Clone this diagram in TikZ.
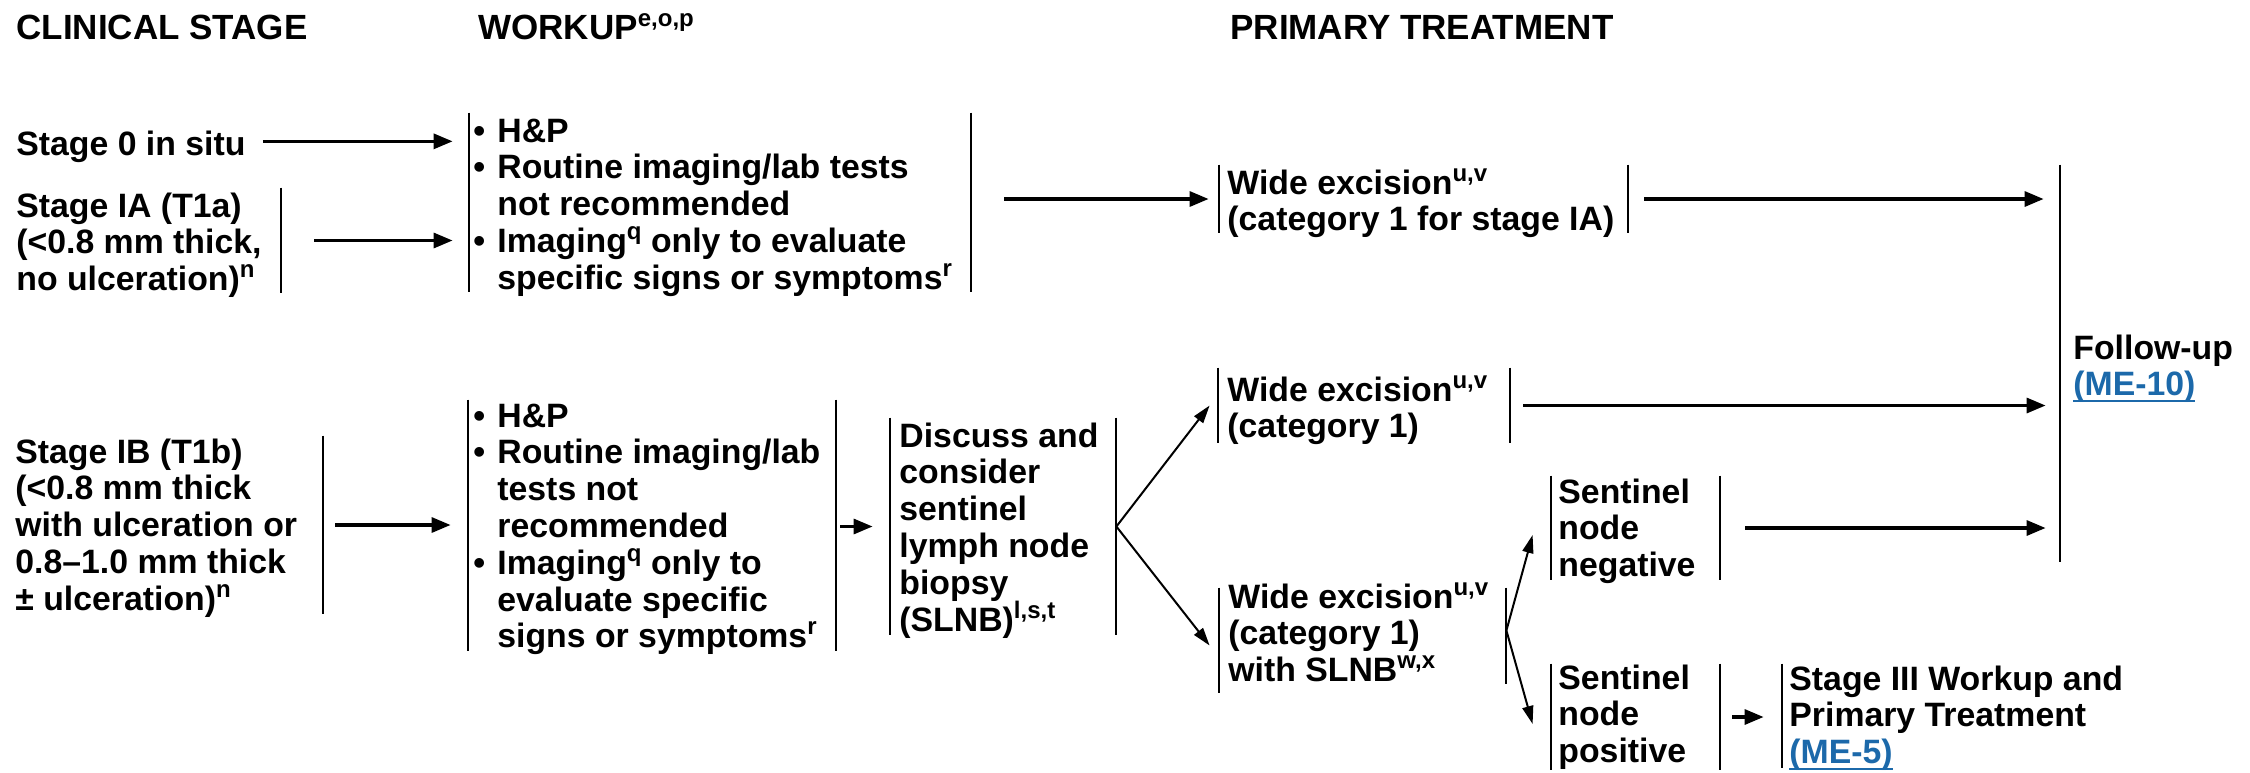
\documentclass[tikz,border=0pt]{standalone}
\usepackage{fontspec}
\setmainfont{Liberation Sans}
\usetikzlibrary{arrows.meta,fit}
\definecolor{linkblue}{RGB}{28,105,170}
\newcommand\sups[1]{\smash{\raisebox{6.5pt}{\fontsize{12}{12}\selectfont #1}}}
\newcommand\bul{\makebox[12pt][l]{\textbullet}}
\newcommand\ind{\hspace*{12pt}}
\newcommand\lnk[1]{\textcolor{linkblue}{\setbox0\hbox{#1}\rlap{\rule[-3.2pt]{\wd0}{1pt}}\box0}}
\newcommand\ml[1]{\begin{tabular}[t]{@{}l@{}}#1\end{tabular}}
\begin{document}
\begin{tikzpicture}[x=0.5pt,y=-0.5pt,
  txt/.style={font=\bfseries\fontsize{16.9}{18.4}\selectfont, inner sep=0, anchor=base west},
  head/.style={txt, font=\bfseries\fontsize{17.5}{18.4}\selectfont},
  frame/.style={inner sep=0, draw=none},
  brk/.style={line width=1pt},
  arr/.style={line width=1.6pt, -{Triangle[length=9.5pt,width=7.5pt]}},
  tarr/.style={line width=1pt, -{Triangle[length=9pt,width=5.5pt]}}]
\path[use as bounding box] (0,0) rectangle (2250,772);
% headers
\node[head] (h1) at (16,39) {CLINICAL STAGE};
\node[head] (h2) at (478,39) {WORKUP\sups{e,o,p}};
\node[head] (h3) at (1230,39) {PRIMARY TREATMENT};
% row 1
\node[txt] (s0) at (16,155) {Stage 0 in situ};
\node[txt] (iat) at (16,217) {\ml{Stage IA (T1a)\\(<0.8 mm thick,\\no ulceration)\sups{n}}};
\node[frame, fit={(16,188) (281,293)}] (ia) {};
\node[txt] (wk1t) at (473,142) {\ml{\bul H\&P\\\bul Routine imaging/lab tests\\\ind not recommended\\\bul Imaging\sups{q} only to evaluate\\\ind specific signs or symptoms\sups{r}}};
\node[frame, fit={(469,113) (971,292)}] (wk1) {};
\node[txt] (w1t) at (1227,194) {\ml{Wide excision\sups{u,v}\\(category 1 for stage IA)}};
\node[frame, fit={(1219,165) (1628,233)}] (w1) {};
\node[txt] (fut) at (2073,359) {\ml{Follow-up\\\lnk{(ME-10)}}};
\node[frame, fit={(2060,165) (2240,562)}] (fu) {};
% row 2
\node[txt] (ibt) at (15,463) {\ml{Stage IB (T1b)\\(<0.8 mm thick\\with ulceration or\\0.8–1.0 mm thick\\± ulceration)\sups{n}}};
\node[frame, fit={(15,436) (323,614)}] (ib) {};
\node[txt] (wk2t) at (473,427) {\ml{\bul H\&P\\\bul Routine imaging/lab\\\ind tests not\\\ind recommended\\\bul Imaging\sups{q} only to\\\ind evaluate specific\\\ind signs or symptoms\sups{r}}};
\node[frame, fit={(468,400) (836,651)}] (wk2) {};
\node[txt] (dst) at (899,447) {\ml{Discuss and\\consider\\sentinel\\lymph node\\biopsy\\(SLNB)\sups{l,s,t}}};
\node[frame, fit={(890,418) (1116,635)}] (ds) {};
\node[txt] (w2t) at (1227,401) {\ml{Wide excision\sups{u,v}\\(category 1)}};
\node[frame, fit={(1218,368) (1510,443)}] (w2) {};
\node[txt] (w3t) at (1228,608) {\ml{Wide excision\sups{u,v}\\(category 1)\\with SLNB\sups{w,x}}};
\node[frame, fit={(1219,588) (1506,693)}] (w3) {};
\node[txt] (snnt) at (1558,503) {\ml{Sentinel\\node\\negative}};
\node[frame, fit={(1551,476) (1720,580)}] (snn) {};
\node[txt] (snpt) at (1558,689) {\ml{Sentinel\\node\\positive}};
\node[frame, fit={(1551,664) (1720,770)}] (snp) {};
\node[txt] (s3t) at (1789,690) {\ml{Stage III Workup and\\Primary Treatment\\\lnk{(ME-5)}}};
\node[frame, fit={(1782,664) (2240,768)}] (s3) {};
% bracket lines
\draw[brk] (ia.north east) -- (ia.south east);
\draw[brk] (ib.north east) -- (ib.south east);
\foreach \n in {wk1,w1,wk2,ds,w2,snn,snp}{
  \draw[brk] (\n.north west) -- (\n.south west) (\n.north east) -- (\n.south east);
}
\draw[brk] (w3.north west) -- (w3.south west) (w3.north east) -- ([yshift=4.5pt]w3.south east);
\draw[brk] (fu.north west) -- (fu.south west);
\draw[brk] (s3.north west) -- (s3.south west);
% connectors
\coordinate (s0o) at ([yshift=2.5pt]s0.east);
\draw[arr, shorten <=8.5pt, shorten >=8pt] (s0o) -- (s0o -| wk1.west);
\draw[arr, shorten <=16.5pt, shorten >=8pt] (ia.east) -- (ia.east -| wk1.west);
\draw[arr, shorten <=16.5pt, shorten >=5pt] (wk1.east |- w1.west) -- (w1.west);
\draw[arr, shorten <=8pt, shorten >=8pt] (w1.east) -- (w1.east -| fu.west);
\draw[arr, shorten <=6pt, shorten >=8.5pt] (ib.east) -- (ib.east -| wk2.west);
\draw[arr, shorten <=2pt, shorten >=8.5pt] (wk2.east |- ds.west) -- (ds.west);
\draw[tarr] (ds.east) -- ([xshift=-4pt]w2.west);
\draw[tarr] (ds.east) -- ([xshift=-4.5pt,yshift=-2.5pt]w3.west);
\draw[arr, shorten <=6.5pt, shorten >=7pt] (w2.east) -- (w2.east -| fu.west);
\coordinate (w3o) at ([yshift=5pt]w3.east);
\draw[tarr] (w3o) -- ([xshift=-9pt,yshift=-3.5pt]snn.west);
\draw[tarr] (w3o) -- ([xshift=-9pt,yshift=-3.5pt]snp.west);
\draw[arr, shorten <=12.5pt, shorten >=7pt] (snn.east) -- (snn.east -| fu.west);
\draw[arr, shorten <=6pt, shorten >=9pt] (snp.east) -- (snp.east -| s3.west);
\end{tikzpicture}
\end{document}
